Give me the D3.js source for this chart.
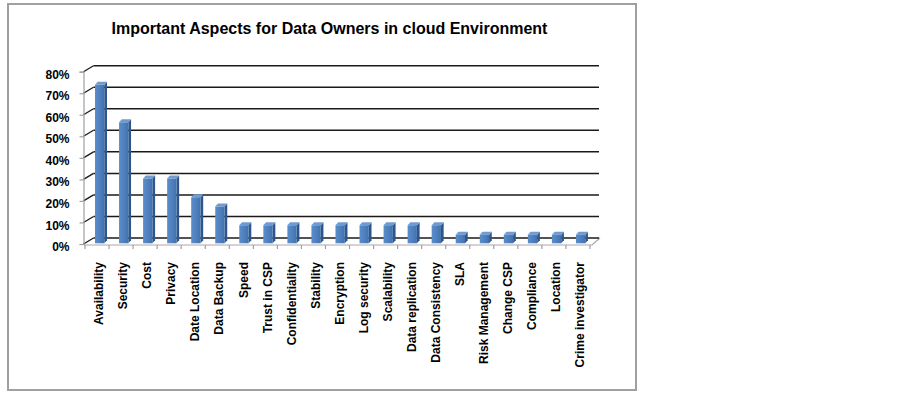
<!DOCTYPE html>
<html>
<head>
<meta charset="utf-8">
<script src="https://cdn.jsdelivr.net/npm/d3@7"></script>
<style>
  body { margin: 0; background: #fff; }
  text { font-family: "Liberation Sans", Arial, sans-serif; }
</style>
</head>
<body>
<svg id="chart" width="903" height="394"></svg>
<script>
// Survey chart: share of data owners naming each aspect
var title = "Important Aspects for Data Owners in cloud Environment";
var categories = ["Availability", "Security", "Cost", "Privacy", "Date Location", "Data Backup",
  "Speed", "Trust in CSP", "Confidentiality", "Stability", "Encryption", "Log security",
  "Scalability", "Data replication", "Data Consistency", "SLA", "Risk Management",
  "Change CSP", "Compliance", "Location", "Crime investigator"];
var values = [73.9, 56.5, 30.4, 30.4, 21.7, 17.4,
  8.7, 8.7, 8.7, 8.7, 8.7, 8.7,
  8.7, 8.7, 8.7, 4.3, 4.3,
  4.3, 4.3, 4.3, 4.3];
var yTicks = [0, 10, 20, 30, 40, 50, 60, 70, 80];

var svg = d3.select('#chart');
var axisX = 83.5;          // front left corner of the floor
var dx = 10, dy = -6;      // depth of the back wall
var barW = 9.3, barDx = 2.7, barDy = -3;

var x = d3.scaleBand()
    .domain(categories)
    .range([85, 590]);
var y = d3.scaleLinear()
    .domain([0, 80])
    .range([244, 71.7]);

// outer frame
svg.append('rect')
    .attr('x', 8).attr('y', 4)
    .attr('width', 628).attr('height', 386)
    .attr('fill', '#fff')
    .attr('stroke', '#a0a0a0')
    .attr('stroke-width', 2);

svg.append('text')
    .attr('x', 329.5)
    .attr('y', 34)
    .attr('text-anchor', 'middle')
    .attr('font-size', 16)
    .attr('font-weight', 'bold')
    .text(title);

// floor outline
var floorY = y(0);
svg.append('path')
    .attr('d', 'M' + axisX + ',' + (floorY + 1) + 'L' + (x.range()[1] + 2) + ',' + (floorY + 1) +
               'L' + (x.range()[1] + 10) + ',' + (floorY + dy) )
    .attr('fill', 'none')
    .attr('stroke', '#a8a8a8')
    .attr('stroke-width', 1.2);

// back wall gridlines + left wall diagonals
var grid = svg.append('g');
grid.selectAll('line.back')
    .data(yTicks)
  .enter().append('line')
    .attr('class', 'back')
    .attr('x1', axisX + dx).attr('x2', 599)
    .attr('y1', function(d) { return y(d) + dy; })
    .attr('y2', function(d) { return y(d) + dy; })
    .attr('stroke', '#1a1a1a')
    .attr('stroke-width', 1.5);
grid.selectAll('line.side')
    .data(yTicks)
  .enter().append('line')
    .attr('class', 'side')
    .attr('x1', axisX).attr('x2', axisX + dx)
    .attr('y1', function(d) { return y(d); })
    .attr('y2', function(d) { return y(d) + dy; })
    .attr('stroke', '#1a1a1a')
    .attr('stroke-width', 1.3);

// y axis
var yAxis = d3.axisLeft(y)
    .tickValues(yTicks)
    .tickFormat(function(d) { return d + '%'; })
    .tickSize(4)
    .tickPadding(10);
var gy = svg.append('g')
    .attr('transform', 'translate(' + axisX + ',0)')
    .call(yAxis);
gy.select('.domain').attr('stroke', '#a0a0a0').attr('stroke-width', 1.2);
gy.selectAll('.tick line').attr('stroke', '#a0a0a0').attr('stroke-width', 1.2);
gy.selectAll('.tick text')
    .attr('dy', '0.55em')
    .attr('font-size', 12)
    .attr('font-weight', 'bold')
    .attr('font-family', '"Liberation Sans", Arial, sans-serif')
    .attr('fill', '#000');

// x axis: ticks sit on band edges, labels rotated
var xAxis = d3.axisBottom(x).tickSize(0);
var gx = svg.append('g')
    .attr('transform', 'translate(0,' + (floorY + 1) + ')')
    .call(xAxis);
gx.select('.domain').remove();
gx.selectAll('.tick text')
    .attr('transform', 'rotate(-90)')
    .attr('text-anchor', 'end')
    .attr('x', -17)
    .attr('y', 2)
    .attr('dy', '0.35em')
    .attr('font-size', 12)
    .attr('font-weight', 'bold')
    .attr('font-family', '"Liberation Sans", Arial, sans-serif')
    .attr('fill', '#000');
var edges = categories.map(function(c) { return x(c); }).concat([x.range()[1]]);
svg.append('g').selectAll('line')
    .data(edges)
  .enter().append('line')
    .attr('x1', function(d) { return d; })
    .attr('x2', function(d) { return d; })
    .attr('y1', floorY + 1)
    .attr('y2', floorY + 5)
    .attr('stroke', '#a0a0a0')
    .attr('stroke-width', 1.2);

// bar gradients
var defs = svg.append('defs');
var grad = defs.append('linearGradient').attr('id', 'front')
    .attr('x1', '0').attr('x2', '1').attr('y1', '0').attr('y2', '0');
grad.append('stop').attr('offset', '0%').attr('stop-color', '#5a8dcc');
grad.append('stop').attr('offset', '50%').attr('stop-color', '#4f81bd');
grad.append('stop').attr('offset', '100%').attr('stop-color', '#4272ae');

var bars = svg.append('g').selectAll('g')
    .data(categories)
  .enter().append('g');

function x0(c) { return x(c) + 10; }
var base = floorY - 0.7;

// side face
bars.append('path')
    .attr('d', function(c, i) {
      var t = y(values[i]), l = x0(c) + barW;
      return 'M' + l + ',' + t + 'L' + (l + barDx) + ',' + (t + barDy) +
             'L' + (l + barDx) + ',' + (base + barDy) + 'L' + l + ',' + base + 'Z';
    })
    .attr('fill', '#2f5689');
// top face
bars.append('path')
    .attr('d', function(c, i) {
      var t = y(values[i]), l = x0(c);
      return 'M' + l + ',' + t + 'L' + (l + barDx) + ',' + (t + barDy) +
             'L' + (l + barW + barDx) + ',' + (t + barDy) + 'L' + (l + barW) + ',' + t + 'Z';
    })
    .attr('fill', '#6f9bd3');
// front face
bars.append('rect')
    .attr('x', function(c) { return x0(c); })
    .attr('y', function(c, i) { return y(values[i]); })
    .attr('width', barW)
    .attr('height', function(c, i) { return base - y(values[i]); })
    .attr('fill', 'url(#front)');
</script>
</body>
</html>
